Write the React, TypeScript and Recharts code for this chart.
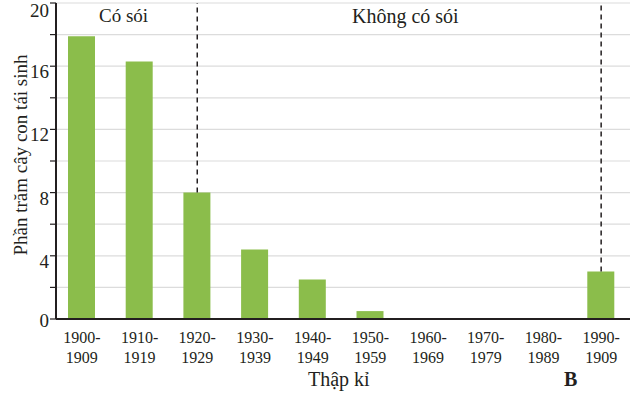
import { BarChart, Bar, XAxis, YAxis, CartesianGrid, ReferenceLine } from 'recharts'

const decades = [
  '1900-1909',
  '1910-1919',
  '1920-1929',
  '1930-1939',
  '1940-1949',
  '1950-1959',
  '1960-1969',
  '1970-1979',
  '1980-1989',
  '1990-1909',
]
const seedlingPct = [17.9, 16.3, 8.0, 4.4, 2.5, 0.5, 0, 0, 0, 3.0]
const yTicks = [0, 2, 4, 6, 8, 10, 12, 14, 16, 18, 20]
const wolfMarks = ['1920-1929', '1990-1909']

const FONT = '"Liberation Serif", "DejaVu Serif", serif'
const INK = '#231f20'

function DecadeTick(props: any) {
  const { x, y, payload } = props
  const [a, b] = String(payload.value).split('-')
  return (
    <text x={x} y={y} textAnchor="middle" fill={INK} fontSize={16} fontFamily={FONT}>
      <tspan x={x} dy={16}>{a}-</tspan>
      <tspan x={x} dy={20}>{b}</tspan>
    </text>
  )
}

// labels sit just below their tick, like the printed figure
function PctTick(props: any) {
  const { x, y, payload } = props
  if (payload.value % 4 !== 0) return <g />
  const dy = payload.value === 0 ? 8 : payload.value === 20 ? 14 : 12
  return (
    <text x={x} y={y} dy={dy} textAnchor="end" fill={INK} fontSize={19} fontFamily={FONT}>
      {payload.value}
    </text>
  )
}

function PctLabel(props: any) {
  const { viewBox } = props
  const cx = viewBox.x + 20
  const cy = viewBox.y + viewBox.height / 2 - 6
  return (
    <text
      x={cx}
      y={cy}
      transform={`rotate(-90, ${cx}, ${cy})`}
      textAnchor="middle"
      dominantBaseline="central"
      fill={INK}
      fontSize={19}
      fontFamily={FONT}
    >
      Phần trăm cây con tái sinh
    </text>
  )
}

export default function App() {
  const data = decades.map((d, i) => ({ decade: d, pct: seedlingPct[i] }))
  const topOf = (d: string) => seedlingPct[decades.indexOf(d)]

  return (
    <div style={{ position: 'absolute', left: 0, top: 0, width: 630, height: 394, background: '#fff', fontFamily: FONT }}>
      <BarChart width={630} height={394} data={data} margin={{ top: 3, right: 0, left: 0, bottom: 30 }}>
        <CartesianGrid vertical={false} stroke="#dcdcdc" strokeWidth={1.2} />
        <XAxis
          dataKey="decade"
          tick={<DecadeTick />}
          tickLine={false}
          axisLine={{ stroke: INK, strokeWidth: 2 }}
          interval={0}
          height={45}
          padding={{ left: -3, right: 0 }}
        />
        <YAxis
          domain={[0, 20]}
          ticks={yTicks}
          interval={0}
          width={56}
          tickSize={6}
          tickMargin={1}
          tickLine={{ stroke: INK, strokeWidth: 1.2 }}
          axisLine={{ stroke: INK, strokeWidth: 2 }}
          tick={<PctTick />}
          label={<PctLabel />}
        />
        <Bar dataKey="pct" fill="#8bbd4b" barSize={27} isAnimationActive={false} />
        {wolfMarks.map((d) => (
          <ReferenceLine
            key={d}
            segment={[
              { x: d, y: topOf(d) },
              { x: d, y: 20 },
            ]}
            stroke={INK}
            strokeWidth={1.5}
            strokeDasharray="5 4"
          />
        ))}
      </BarChart>
      <div style={{ position: 'absolute', left: 99, top: 5, fontSize: 19, color: INK }}>Có sói</div>
      <div style={{ position: 'absolute', left: 352, top: 5, fontSize: 20, color: INK }}>Không có sói</div>
      <div style={{ position: 'absolute', left: 308, top: 368, fontSize: 20, color: INK }}>Thập kỉ</div>
      <div style={{ position: 'absolute', left: 564, top: 368, fontSize: 20, fontWeight: 'bold', color: INK }}>B</div>
    </div>
  )
}
